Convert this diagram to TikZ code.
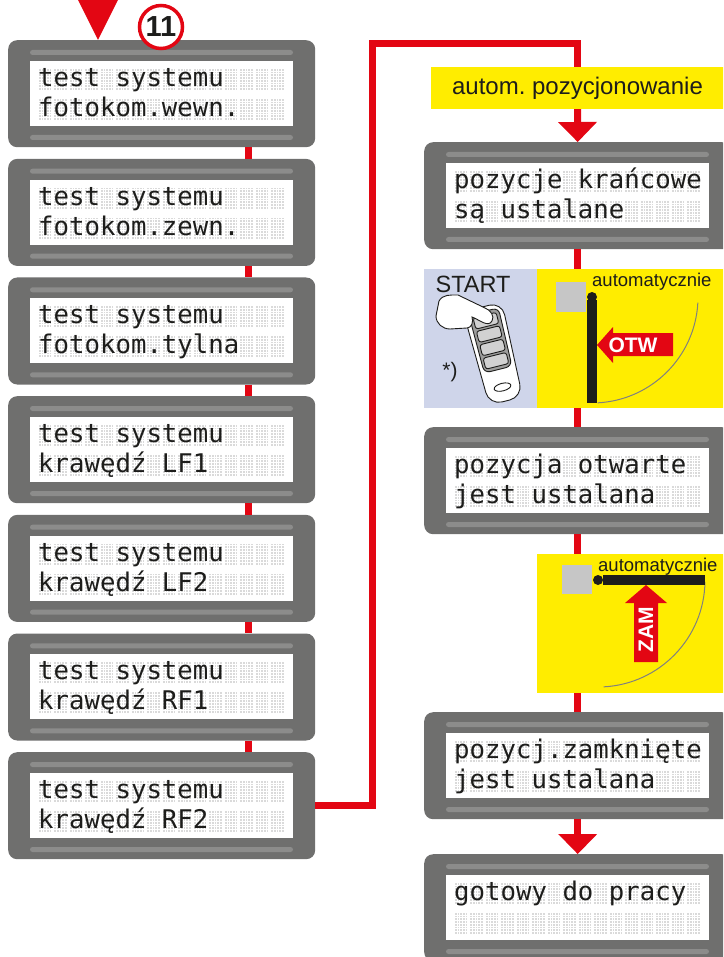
\documentclass[tikz,border=0pt]{standalone}
\usepackage{fontspec}
\setmainfont{Liberation Sans}
\newfontfamily\lcdfont{DejaVu Sans Mono}
\usetikzlibrary{arrows.meta,calc}

\definecolor{lcdgray}{HTML}{6F6F6E}
\definecolor{stripgray}{HTML}{8C8C8B}
\definecolor{cellgray}{HTML}{DADADA}
\definecolor{flowred}{HTML}{E30613}
\definecolor{signyellow}{HTML}{FFED00}
\definecolor{lavender}{HTML}{CFD5EA}
\definecolor{ink}{HTML}{1D1D1B}
\definecolor{boxgray}{HTML}{C6C6C6}
\definecolor{keygray}{HTML}{9D9D9C}

% lcd panel: name, top left corner, line 1, line 2
\newcommand{\lcdpanel}[4]{%
  \node[lcd, anchor=north west] (#1) at (#2) {};
  \begin{scope}[shift={(#1.north west)}]
    \fill[stripgray, rounded corners=2.5pt] (22,-10) rectangle (285,-15);
    \fill[white] (22,-21) rectangle (285,-86);
    \fill[stripgray, rounded corners=2.5pt] (22,-95) rectangle (285,-100);
    \foreach \row in {0,1} {
      \foreach \col in {0,...,15} {
        \fill[cellgray] (30+15.5*\col,-28-30*\row) rectangle ++(13.5,-22);
        \draw[dots, shift={(30+15.5*\col,-50-30*\row)}] (0,0) grid (13.5,22);
      }
    }
    \node[lcdtext] (#1-top) at (30,-46.5) {#3};
    \node[lcdtext] (#1-bot) at (30,-76.5) {#4};
  \end{scope}%
}

\begin{document}
\frenchspacing
\begin{tikzpicture}[x=1pt, y=1pt]
  \tikzstyle{lcd}=[fill=lcdgray, rounded corners=9pt, minimum width=307pt,
                   minimum height=107pt, inner sep=0pt]
  \tikzstyle{lcdtext}=[anchor=base west, inner sep=0pt, text=ink,
                       font=\lcdfont\fontsize{25.7}{28}\selectfont]
  \tikzstyle{dots}=[white, line width=0.35pt, xstep=2.7, ystep=2.75]
  \tikzstyle{link}=[draw=flowred, line width=7pt]
  \tikzstyle{tip}=[-{Triangle[width=39pt, length=20pt, line width=0pt]}]
  \tikzstyle{badge}=[circle, draw=flowred, fill=white, line width=3.5pt,
                     minimum size=43pt, inner sep=0pt, text=ink,
                     font=\bfseries\fontsize{29}{29}\selectfont]
  \tikzstyle{tag}=[fill=signyellow, minimum width=293pt, minimum height=42pt,
                   text=ink, font=\fontsize{24}{24}\selectfont]
  \tikzstyle{panelbox}=[anchor=north west, minimum height=139pt, inner sep=0pt]
  \tikzstyle{swing}=[draw=gray, line width=1pt]
  \tikzstyle{auto}=[anchor=base west, inner sep=0pt, text=ink,
                    font=\fontsize{18.5}{18.5}\selectfont]
  \tikzstyle{sign}=[text=white, inner sep=0pt,
                    font=\bfseries\fontsize{21}{21}\selectfont]
  \tikzstyle{remote}=[draw=ink, line width=0.9pt]

  \clip (0,0) rectangle (723,-957);

  % left column
  \lcdpanel{d1}{8,-40}{test systemu}{fotokom.wewn.}
  \lcdpanel{d2}{8,-158.7}{test systemu}{fotokom.zewn.}
  \lcdpanel{d3}{8,-277.3}{test systemu}{fotokom.tylna}
  \lcdpanel{d4}{8,-396}{test systemu}{krawędź LF1}
  \lcdpanel{d5}{8,-514.7}{test systemu}{krawędź LF2}
  \lcdpanel{d6}{8,-633.3}{test systemu}{krawędź RF1}
  \lcdpanel{d7}{8,-752}{test systemu}{krawędź RF2}

  % right column
  \lcdpanel{r1}{424,-142}{pozycje krańcowe}{są ustalane}
  \lcdpanel{r2}{424,-427}{pozycja otwarte}{jest ustalana}
  \lcdpanel{r3}{424,-712}{pozycj.zamknięte}{jest ustalana}
  \lcdpanel{r4}{424,-854}{gotowy do pracy}{}

  \node[badge] (num) at (161,-27) {11};
  \node[tag] (auto) at (577.5,-88) {autom. pozycjonowanie};

  % red flow lines
  \coordinate (entry) at (98,0);
  \draw[link, -{Triangle[width=40pt, length=40pt, line width=0pt]}]
    (entry) -- (entry |- d1.north);
  \foreach \src/\dst in {d1/d2, d2/d3, d3/d4, d4/d5, d5/d6, d6/d7} {%
    \draw[link] ($(\src.south west)+(240,0)$) -- ($(\dst.north west)+(240,0)$);
  }
  \coordinate (bend) at (372,-44);
  \draw[link] (d7.east) -| (bend) -| (auto.north);
  \draw[link, tip] (auto.south) -- (r1.north);
  \draw[link] (r1.south) -- (r2.north);
  \draw[link] (r2.south) -- (r3.north);
  \draw[link, tip] (r3.south) -- (r4.north);

  % hand transmitter and opening gate
  \node[panelbox, fill=lavender, minimum width=113pt] (startbox) at (424,-269) {};
  \node[panelbox, fill=signyellow, minimum width=190pt] (openbox) at (537,-269) {};
  \node[text=ink, font=\fontsize{23.5}{23.5}\selectfont] (start) at (473,-284) {START};
  \node[text=ink, font=\fontsize{21}{21}\selectfont] (star) at (450,-372) {*)};
  \begin{scope}[shift={(494,-353)}, rotate=14, scale=0.95]
    \filldraw[remote, fill=white, rounded corners=13pt]
      (-21,50) -- (21,50) -- (18,-52) -- (-18,-52) -- cycle;
    \filldraw[remote, fill=keygray, rounded corners=6pt]
      (-16,45) -- (16,45) -- (15,-18) -- (-15,-18) -- cycle;
    \foreach \k in {0,...,3}
      \filldraw[remote, fill=boxgray!80, rounded corners=2.5pt]
        (-12.5,41-14.5*\k) rectangle (12.5,29-14.5*\k);
    \filldraw[remote, fill=white] (0,-37) ellipse (9 and 4);
  \end{scope}
  \filldraw[remote, fill=white]
    (439,-301) to[out=60, in=180] (458,-295) -- (485,-308)
    to[out=-20, in=60] (492,-321) to[out=240, in=-20] (472,-317)
    to[out=-70, in=0] (467,-328) -- (450,-329)
    to[out=180, in=-90] (436,-316) -- cycle;

  \fill[boxgray] (556,-282) rectangle (586,-312);
  \draw[swing] (592,-297) ++(-87:106) arc (-87:-3:106);
  \fill[ink] (587,-300) rectangle (597,-403);
  \fill[ink] (592,-297) circle (5);
  \node[auto] (auto1) at (592,-287) {automatycznie};
  \fill[flowred] (673,-333) -- (613,-333) -- (613,-327) -- (597,-345)
    -- (613,-363) -- (613,-356) -- (673,-356) -- cycle;
  \node[sign] (otw) at (633,-345) {OTW};

  % closing gate
  \node[panelbox, fill=signyellow, minimum width=190pt] (closebox) at (537,-554) {};
  \fill[boxgray] (562,-565) rectangle (592,-594);
  \draw[swing] (598,-580) ++(-1:107) arc (-1:-87:107);
  \fill[ink] (603,-575) rectangle (705,-585);
  \fill[ink] (598,-580) circle (5);
  \node[auto] (auto2) at (598,-571) {automatycznie};
  \fill[flowred] (634,-662) -- (634,-603) -- (625,-603) -- (646,-585)
    -- (667,-603) -- (658,-603) -- (658,-662) -- cycle;
  \node[sign, rotate=90] (zam) at (646,-630) {ZAM};
\end{tikzpicture}
\end{document}
